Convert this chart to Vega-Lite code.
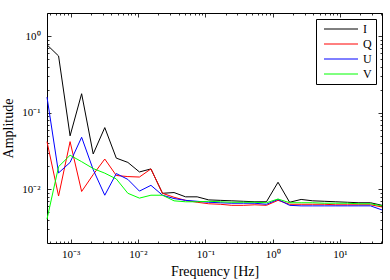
{
  "$schema": "https://vega.github.io/schema/vega-lite/v6.json",
  "width": 335,
  "height": 230,
  "autosize": {"type": "none"},
  "padding": {"left": 47, "top": 13, "right": 8, "bottom": 37},
  "background": "white",
  "config": {
    "view": {"stroke": "black", "strokeWidth": 1},
    "font": "Liberation Serif",
    "axis": {"grid": false, "domain": false, "tickColor": "black", "tickWidth": 0.8, "labelFont": "Liberation Serif", "labelColor": "black", "titleFont": "Liberation Serif", "titleColor": "black", "titleFontWeight": "normal", "labelFlush": false, "labelOverlap": false}
  },
  "datasets": {
    "spec": [
      {"f": 0.000445, "I": 0.77, "Q": 0.042, "U": 0.16, "V": 0.0041},
      {"f": 0.000661, "I": 0.55, "Q": 0.0082, "U": 0.0164, "V": 0.0198},
      {"f": 0.00098, "I": 0.05, "Q": 0.042, "U": 0.0225, "V": 0.0279},
      {"f": 0.001455, "I": 0.177, "Q": 0.0094, "U": 0.0479, "V": 0.023},
      {"f": 0.00216, "I": 0.029, "Q": 0.0156, "U": 0.0181, "V": 0.0187},
      {"f": 0.00321, "I": 0.064, "Q": 0.0249, "U": 0.0084, "V": 0.0163},
      {"f": 0.00476, "I": 0.0256, "Q": 0.0152, "U": 0.0161, "V": 0.0137},
      {"f": 0.00707, "I": 0.0225, "Q": 0.0147, "U": 0.0135, "V": 0.0089},
      {"f": 0.0105, "I": 0.0169, "Q": 0.0145, "U": 0.0095, "V": 0.0077},
      {"f": 0.01557, "I": 0.0185, "Q": 0.0185, "U": 0.0113, "V": 0.0084},
      {"f": 0.0231, "I": 0.0089, "Q": 0.0089, "U": 0.0084, "V": 0.0084},
      {"f": 0.0343, "I": 0.0091, "Q": 0.0079, "U": 0.0076, "V": 0.0071},
      {"f": 0.0509, "I": 0.008, "Q": 0.0072, "U": 0.0072, "V": 0.0069},
      {"f": 0.0756, "I": 0.008, "Q": 0.0068, "U": 0.007, "V": 0.0069},
      {"f": 0.1122, "I": 0.0073, "Q": 0.0065, "U": 0.0068, "V": 0.007},
      {"f": 0.1667, "I": 0.0072, "Q": 0.0064, "U": 0.0067, "V": 0.0069},
      {"f": 0.2475, "I": 0.0071, "Q": 0.0062, "U": 0.0066, "V": 0.0068},
      {"f": 0.367, "I": 0.007, "Q": 0.0062, "U": 0.0066, "V": 0.0068},
      {"f": 0.545, "I": 0.0069, "Q": 0.0063, "U": 0.0066, "V": 0.0068},
      {"f": 0.809, "I": 0.0069, "Q": 0.0062, "U": 0.0064, "V": 0.0067},
      {"f": 1.202, "I": 0.0124, "Q": 0.0072, "U": 0.0074, "V": 0.0075},
      {"f": 1.785, "I": 0.0068, "Q": 0.0064, "U": 0.0062, "V": 0.0067},
      {"f": 2.65, "I": 0.0074, "Q": 0.0064, "U": 0.0061, "V": 0.0067},
      {"f": 3.94, "I": 0.0071, "Q": 0.0064, "U": 0.0061, "V": 0.0067},
      {"f": 5.84, "I": 0.007, "Q": 0.0064, "U": 0.0061, "V": 0.0066},
      {"f": 8.67, "I": 0.0069, "Q": 0.0063, "U": 0.0061, "V": 0.0066},
      {"f": 12.88, "I": 0.0068, "Q": 0.0063, "U": 0.0061, "V": 0.0066},
      {"f": 19.1, "I": 0.0067, "Q": 0.0063, "U": 0.0061, "V": 0.0065},
      {"f": 28.4, "I": 0.0067, "Q": 0.0063, "U": 0.0061, "V": 0.0065},
      {"f": 42.1, "I": 0.0062, "Q": 0.0059, "U": 0.0054, "V": 0.0061}
    ]
  },
  "data": {"name": "spec"},
  "transform": [{"fold": ["I", "Q", "U", "V"], "as": ["series", "amp"]}],
  "resolve": {"axis": {"x": "independent", "y": "independent"}},
  "layer": [
    {
      "mark": {"type": "line", "strokeWidth": 1},
      "encoding": {
        "x": {"field": "f", "type": "quantitative", "scale": {"type": "log", "domain": [0.000445, 42.1], "nice": false},
          "axis": {"orient": "bottom", "values": [0.001, 0.01, 0.1, 1, 10], "tickSize": -4, "labelPadding": 9, "labelFontSize": 11,
            "labelExpr": "'10' + replace(replace(replace(replace(replace(toString(round(log(datum.value)/LN10)), '-', '⁻'), '0', '⁰'), '1', '¹'), '2', '²'), '3', '³')",
            "title": "Frequency [Hz]", "titleFontSize": 14, "titlePadding": 5}},
        "y": {"field": "amp", "type": "quantitative", "scale": {"type": "log", "domain": [0.002, 2], "nice": false},
          "axis": {"orient": "left", "values": [0.01, 0.1, 1], "tickSize": -4, "labelPadding": 11, "labelFontSize": 11,
            "labelExpr": "'10' + replace(replace(replace(replace(replace(toString(round(log(datum.value)/LN10)), '-', '⁻'), '0', '⁰'), '1', '¹'), '2', '²'), '3', '³')",
            "title": "Amplitude", "titleFontSize": 14, "titlePadding": 6}},
        "color": {"field": "series", "type": "nominal",
          "scale": {"domain": ["I", "Q", "U", "V"], "range": ["#000000", "#ff0000", "#0000ff", "#00ff00"]},
          "legend": {"title": null, "orient": "none", "legendX": 269, "legendY": 6, "symbolType": "M-1,0H5.8", "symbolSize": 100, "symbolStrokeWidth": 1, "symbolOffset": 3,
            "strokeColor": "black", "fillColor": "white", "padding": 4, "labelFont": "Liberation Serif", "labelFontSize": 12, "labelColor": "black", "rowPadding": 3, "labelOffset": 28, "cornerRadius": 0}}
      }
    },
    {
      "mark": {"type": "point", "opacity": 0},
      "encoding": {
        "x": {"field": "f", "type": "quantitative", "scale": {"type": "log", "domain": [0.000445, 42.1], "nice": false},
          "axis": {"orient": "bottom", "values": [0.0005, 0.0006, 0.0007, 0.0008, 0.0009, 0.002, 0.003, 0.004, 0.005, 0.006, 0.007, 0.008, 0.009, 0.02, 0.03, 0.04, 0.05, 0.06, 0.07, 0.08, 0.09, 0.2, 0.3, 0.4, 0.5, 0.6, 0.7, 0.8, 0.9, 2, 3, 4, 5, 6, 7, 8, 9, 20, 30, 40], "tickSize": -2, "labels": false, "title": null}},
        "y": {"field": "amp", "type": "quantitative", "scale": {"type": "log", "domain": [0.002, 2], "nice": false},
          "axis": {"orient": "left", "values": [0.003, 0.004, 0.005, 0.006, 0.007, 0.008, 0.009, 0.02, 0.03, 0.04, 0.05, 0.06, 0.07, 0.08, 0.09, 0.2, 0.3, 0.4, 0.5, 0.6, 0.7, 0.8, 0.9, 2], "tickSize": -2, "labels": false, "title": null}}
      }
    },
    {
      "mark": {"type": "point", "opacity": 0},
      "encoding": {
        "x": {"field": "f", "type": "quantitative", "scale": {"type": "log", "domain": [0.000445, 42.1], "nice": false},
          "axis": {"orient": "top", "values": [0.001, 0.01, 0.1, 1, 10], "tickSize": -4, "labels": false, "title": null}},
        "y": {"field": "amp", "type": "quantitative", "scale": {"type": "log", "domain": [0.002, 2], "nice": false},
          "axis": {"orient": "right", "values": [0.01, 0.1, 1], "tickSize": -4, "labels": false, "title": null}}
      }
    },
    {
      "mark": {"type": "point", "opacity": 0},
      "encoding": {
        "x": {"field": "f", "type": "quantitative", "scale": {"type": "log", "domain": [0.000445, 42.1], "nice": false},
          "axis": {"orient": "top", "values": [0.0005, 0.0006, 0.0007, 0.0008, 0.0009, 0.002, 0.003, 0.004, 0.005, 0.006, 0.007, 0.008, 0.009, 0.02, 0.03, 0.04, 0.05, 0.06, 0.07, 0.08, 0.09, 0.2, 0.3, 0.4, 0.5, 0.6, 0.7, 0.8, 0.9, 2, 3, 4, 5, 6, 7, 8, 9, 20, 30, 40], "tickSize": -2, "labels": false, "title": null}},
        "y": {"field": "amp", "type": "quantitative", "scale": {"type": "log", "domain": [0.002, 2], "nice": false},
          "axis": {"orient": "right", "values": [0.003, 0.004, 0.005, 0.006, 0.007, 0.008, 0.009, 0.02, 0.03, 0.04, 0.05, 0.06, 0.07, 0.08, 0.09, 0.2, 0.3, 0.4, 0.5, 0.6, 0.7, 0.8, 0.9, 2], "tickSize": -2, "labels": false, "title": null}}
      }
    }
  ]
}
